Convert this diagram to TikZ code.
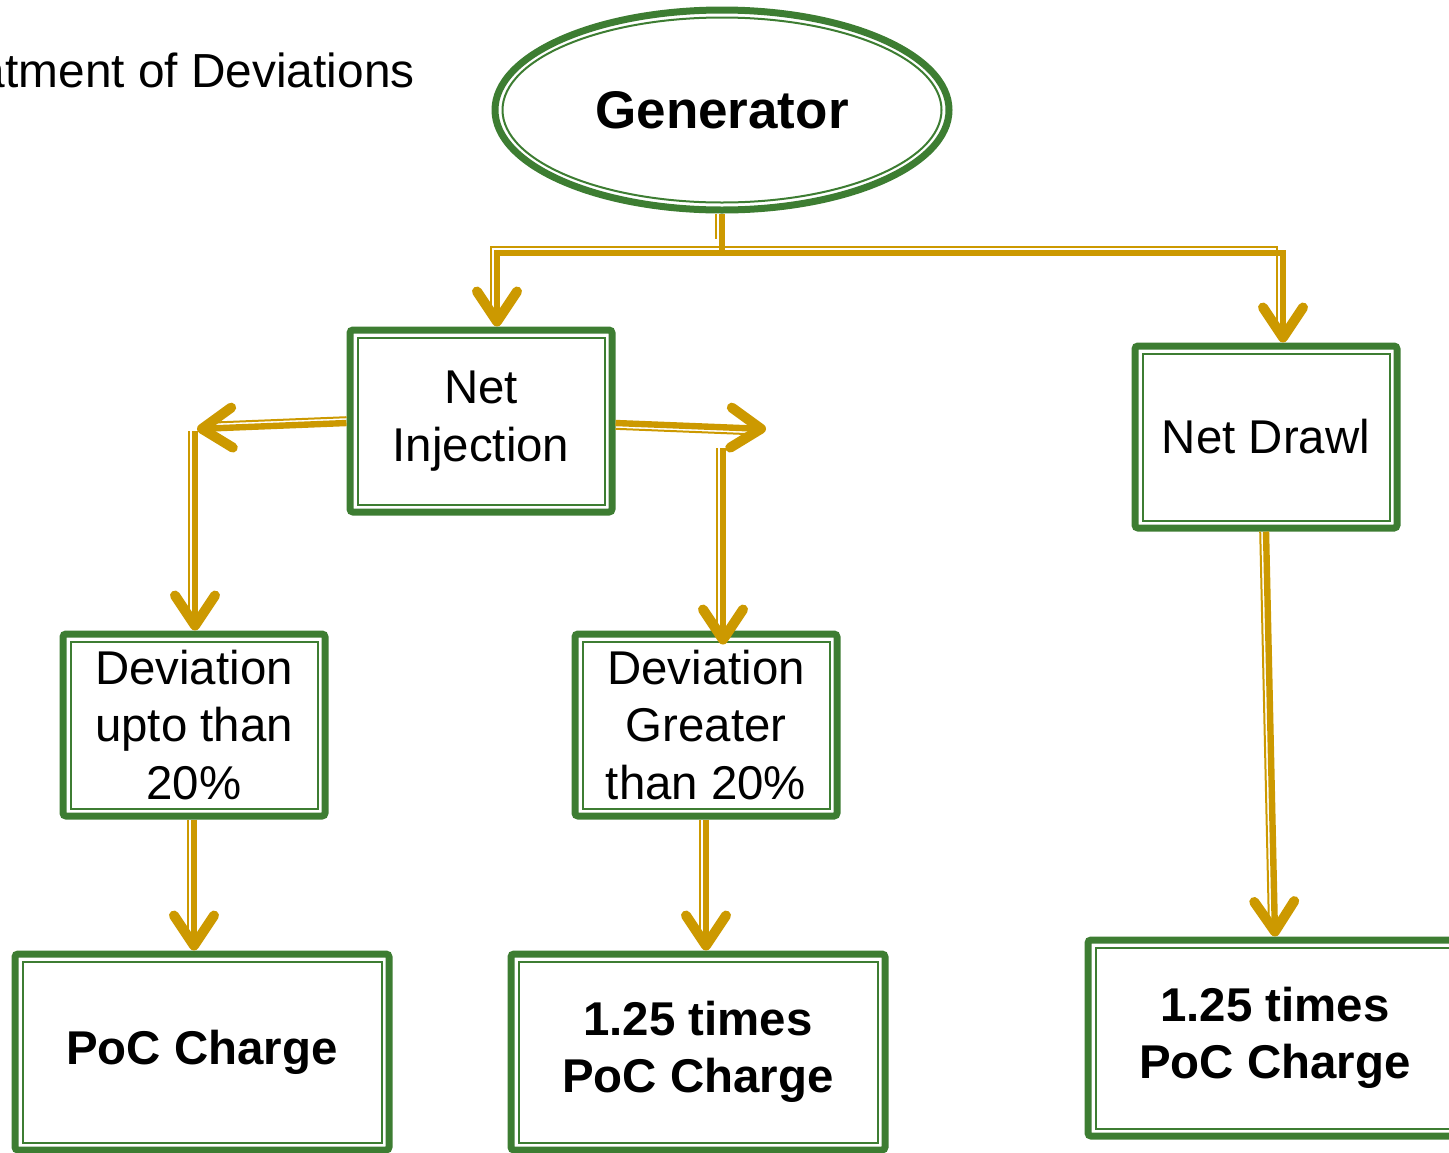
\documentclass[tikz,border=0pt]{standalone}
\usepackage{fontspec}
\setmainfont{Liberation Sans}
\usepackage{xcolor}
\usetikzlibrary{calc,shapes.geometric,arrows.meta}
\definecolor{boxgreen}{RGB}{61,125,50}
\definecolor{flowgold}{RGB}{204,153,0}
\def\ringgap{3.75pt}
\newcommand\flow[3]{%
  \draw[flow={#1}] (#2) -- (#3);
}

\begin{document}
\begin{tikzpicture}
[x=0.5pt, y=-0.5pt,
 frame/.style={draw=boxgreen, line width=3.5pt, inner sep=0, align=center},
 box/.style={frame, rectangle, rounded corners=1.5pt, minimum width=131pt, minimum height=91pt,
   font=\fontsize{23.7}{28.7}\selectfont,
   path picture={\draw[boxgreen, line width=1pt, sharp corners]
     ([shift={(\ringgap,\ringgap)}]path picture bounding box.south west) rectangle
     ([shift={(-\ringgap,-\ringgap)}]path picture bounding box.north east);}},
 bigbox/.style={box, minimum width=187pt, minimum height=98pt,
   font=\bfseries\fontsize{23.7}{28.7}\selectfont},
 gen/.style={frame, ellipse, minimum width=227pt, minimum height=100pt,
   font=\bfseries\fontsize{26.5}{30}\selectfont,
   path picture={\draw[boxgreen, line width=1pt]
     (path picture bounding box.center) ellipse [x radius=109.75pt, y radius=46.25pt];}},
 flow/.style={draw=flowgold, line width=3.2pt,
   -{Straight Barb[length=15pt, width=20pt, line width=5pt, round]},
   preaction={draw=flowgold, line width=1pt, -, shorten >=7pt,
     transform canvas={shift={(#1)}}}},
 pipe/.style={flow={#1}, -}]
\useasboundingbox (0,0) rectangle (1449,1152);
% nodes
\node [anchor=base east, inner sep=0, font=\fontsize{23.9}{28.7}\selectfont] (title) at (415,87) {atment of Deviations};
\node [gen] (gen) at (722,110) {Generator};
\node [box] (inj)   at (481,421)  {Net\\Injection};
\node [box] (drawl) at (1266,437) {Net Drawl};
\node [box] (dev1)  at (194,725)  {Deviation\\upto than\\20\%};
\node [box] (dev2)  at (706,725)  {Deviation\\Greater\\than 20\%};
\node [bigbox] (poc1) at (202,1052)  {PoC Charge};
\node [bigbox] (poc2) at (698,1052)  {1.25 times\\PoC Charge};
\node [bigbox] (poc3) at (1275,1038) {1.25 times\\PoC Charge};
% turning points
\coordinate (split) at (722,253);
\coordinate (injl)  at (197,429);
\coordinate (injr)  at (766,429);
\coordinate (drop2) at (723,448);
% connectors
\draw[pipe={-2.9pt,0pt}] (gen.south) -- (split);
\draw[flow={-2.9pt,2.9pt}] (split) -| ($(inj.north)+(16,0)$);
\draw[flow={-2.9pt,2.9pt}] (split) -| ($(drawl.north)+(17,0)$);
\flow{0pt,2.9pt}{$(inj.west)+(0,2)$}{injl}
\flow{0pt,-2.9pt}{$(inj.east)+(0,2)$}{injr}
\flow{-2.9pt,0pt}{$(injl)+(-2,2)$}{$(injl |- dev1.north)+(-2,0)$}
\flow{-2.9pt,0pt}{drop2}{$(dev2.north -| drop2)+(0,14)$}
\foreach \a/\b in {dev1/poc1, dev2/poc2}
  {\flow{-2.9pt,0pt}{\a.south}{\a.south |- \b.north}}
\flow{-2.9pt,0pt}{drawl.south}{poc3.north}
\end{tikzpicture}
\end{document}
